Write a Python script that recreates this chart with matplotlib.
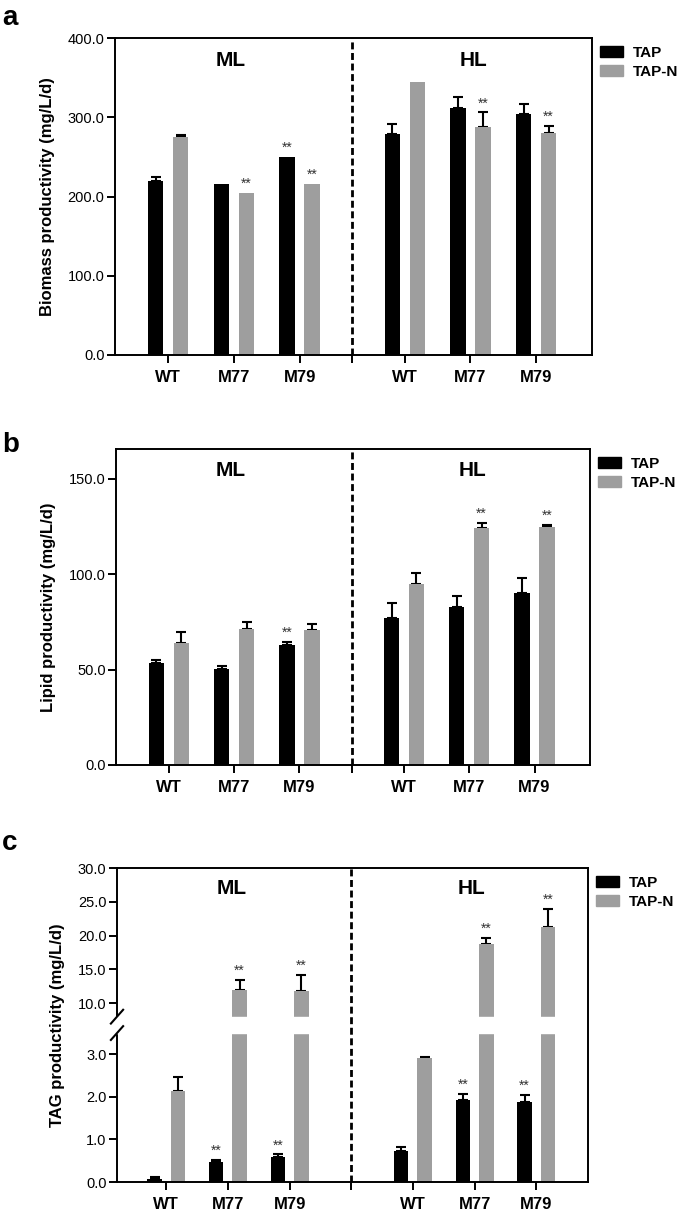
import numpy as np
import matplotlib
matplotlib.use('Agg')
import matplotlib.pyplot as plt
from matplotlib.patches import Patch
from matplotlib.ticker import FormatStrFormatter

plt.rcParams['font.family'] = ['Liberation Sans', 'DejaVu Sans']

strains = ['WT', 'M77', 'M79', 'WT', 'M77', 'M79']
light_groups = ['ML', 'HL']
series_names = ['TAP', 'TAP-N']

# a - biomass productivity (mg/L/d)
bio_tap = [220, 216, 250, 279, 312, 304]
bio_tap_err = [5, 0, 0, 12, 13, 13]
bio_tapn = [275, 205, 216, 344, 288, 280]
bio_tapn_err = [3, 0, 0, 0, 18, 9]
bio_tap_sig = [0, 0, 1, 0, 0, 0]
bio_tapn_sig = [0, 1, 1, 0, 1, 1]

# b - lipid productivity (mg/L/d)
lip_tap = [53.5, 50.5, 63, 77, 83, 90]
lip_tap_err = [1.3, 1.5, 1.6, 8, 5.5, 8]
lip_tapn = [64, 71, 70.5, 95, 124.3, 124.8]
lip_tapn_err = [5.5, 4, 3.5, 5.5, 2.5, 0.8]
lip_tap_sig = [0, 0, 1, 0, 0, 0]
lip_tapn_sig = [0, 0, 0, 0, 1, 1]

# c - TAG productivity (mg/L/d)
tag_tap = [0.08, 0.48, 0.59, 0.73, 1.93, 1.89]
tag_tap_err = [0.04, 0.04, 0.06, 0.1, 0.14, 0.15]
tag_tapn = [2.13, 11.9, 11.8, 2.91, 18.7, 21.3]
tag_tapn_err = [0.33, 1.55, 2.4, 0.03, 1.0, 2.65]
tag_tap_sig = [0, 1, 1, 0, 1, 1]
tag_tapn_sig = [0, 1, 1, 0, 1, 1]

W, H = 685, 1214
fig = plt.figure(figsize=(W / 100, H / 100), dpi=100)
BLACK = '#000000'
GRAY = '#9e9e9e'


def px_axes(l, t, r, b):
    return fig.add_axes([l / W, 1 - b / H, (r - l) / W, (b - t) / H])


def draw_panel(ax, pos, divider, tap, tap_err, tapn, tapn_err, sig_tap, sig_tapn,
               ylabel, label_y, label_x):
    pos = np.array(pos, dtype=float)
    w, off = 0.235, 0.19
    for x, vals, errs, sig, color in [(pos - off, tap, tap_err, sig_tap, BLACK),
                                      (pos + off, tapn, tapn_err, sig_tapn, GRAY)]:
        vals = np.array(vals, dtype=float)
        errs = np.array(errs, dtype=float)
        ax.bar(x, vals, width=w, color=color, zorder=2)
        m = errs > 0
        ax.errorbar(x[m], vals[m], yerr=[np.zeros(m.sum()), errs[m]], fmt='none',
                    ecolor='black', elinewidth=1.5, capsize=3.5, capthick=1.5, zorder=1)
        for xi, v, e, s in zip(x, vals, errs, sig):
            if s:
                ax.annotate('**', (xi, v + e), xytext=(0, 6.5), textcoords='offset points',
                            ha='center', va='center', fontsize=10, color='#333333')
    ax.axvline(divider, color='black', lw=2, ls=(0, (2.5, 1.3)), zorder=4)
    ax.set_xticks(list(pos) + [divider])
    ax.set_xticklabels(strains + [''], fontsize=12, fontweight='bold')
    ax.tick_params(axis='x', length=6, width=1.4, pad=5)
    ax.tick_params(axis='y', length=6, width=1.4, pad=1.5, labelsize=10.5)
    ax.yaxis.set_major_formatter(FormatStrFormatter('%.1f'))
    for s in ax.spines.values():
        s.set_linewidth(1.4)
    ax.spines['right'].set_zorder(4)
    ax.set_ylabel(ylabel, fontsize=12, fontweight='bold', labelpad=9)
    for name, lx in zip(light_groups, label_x):
        ax.text(lx, label_y, name, ha='center', va='center', fontsize=15, fontweight='bold')
    handles = [Patch(color=BLACK, label=series_names[0]), Patch(color=GRAY, label=series_names[1])]
    ax.legend(handles=handles, loc='upper left', bbox_to_anchor=(1.0, 1.0), frameon=False,
              prop=dict(weight='bold', size=11), handlelength=1.5, handleheight=0.7,
              labelspacing=0.35, handletextpad=0.7, borderaxespad=0.3, borderpad=0.2)


pos_ab = [0, 1, 2, 3.6, 4.6, 5.6]
pos_c = [0, 1, 2, 4, 5, 6]

# panel a
ax_a = px_axes(115, 38, 592, 355)
draw_panel(ax_a, pos_ab, 2.8, bio_tap, bio_tap_err, bio_tapn, bio_tapn_err,
           bio_tap_sig, bio_tapn_sig, 'Biomass productivity (mg/L/d)', 372, [0.95, 4.65])
ax_a.set_xlim(-0.81, 6.45)
ax_a.set_ylim(0, 400)
ax_a.set_yticks([0, 100, 200, 300, 400])

# panel b
ax_b = px_axes(116, 449, 590, 765)
draw_panel(ax_b, pos_ab, 2.8, lip_tap, lip_tap_err, lip_tapn, lip_tapn_err,
           lip_tap_sig, lip_tapn_sig, 'Lipid productivity (mg/L/d)', 154.5, [0.95, 4.65])
ax_b.set_xlim(-0.81, 6.45)
ax_b.set_ylim(0, 165.5)
ax_b.set_yticks([0, 50, 100, 150])

# panel c with broken y axis (0-3.5 and 8-30)
LO, HI, GAP, K = 3.5, 8.0, 0.385, 0.1588


def fwd(y):
    y = np.asarray(y, dtype=float)
    return np.where(y <= LO, y, np.where(y >= HI, LO + GAP + (y - HI) * K,
                                         LO + (y - LO) * GAP / (HI - LO)))


def inv(v):
    v = np.asarray(v, dtype=float)
    return np.where(v <= LO, v, np.where(v >= LO + GAP, HI + (v - LO - GAP) / K,
                                         LO + (v - LO) * (HI - LO) / GAP))


ax_c = px_axes(117, 868, 588, 1182)
ax_c.set_yscale('function', functions=(fwd, inv))
draw_panel(ax_c, pos_c, 3.0, tag_tap, tag_tap_err, tag_tapn, tag_tapn_err,
           tag_tap_sig, tag_tapn_sig, 'TAG productivity (mg/L/d)', 27, [1.06, 4.95])
ax_c.set_xlim(-0.8, 6.84)
ax_c.set_ylim(0, 30)
ax_c.set_yticks([0, 1, 2, 3, 10, 15, 20, 25, 30])
ax_c.yaxis.set_major_formatter(FormatStrFormatter('%.1f'))
ax_c.axhspan(LO, HI, xmin=-0.02, xmax=1, color='white', zorder=3, clip_on=False)
top = float(fwd(30))
for f in (float(fwd(LO)) / top, float(fwd(HI)) / top):
    ax_c.plot([-0.013, 0.013], [f - 0.022, f + 0.022], transform=ax_c.transAxes,
              color='black', lw=1.5, clip_on=False, zorder=5)

# panel letters
for letter, yb in [('a', 25), ('b', 452), ('c', 850)]:
    fig.text(2 / W, 1 - yb / H, letter, fontsize=20, fontweight='bold', va='baseline', ha='left')

fig.savefig('out.png', dpi=100)
